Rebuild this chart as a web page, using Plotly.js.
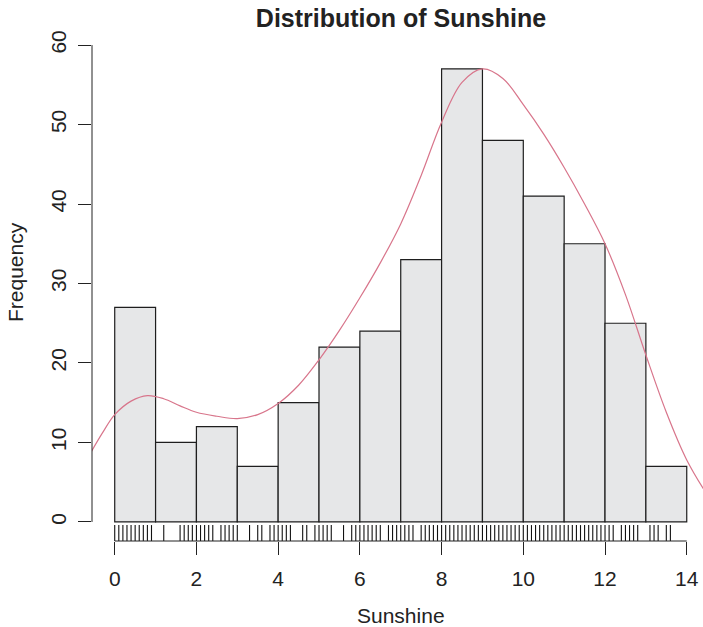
<!DOCTYPE html>
<html>
<head>
<meta charset="utf-8">
<script src="https://cdn.plot.ly/plotly-3.0.1.min.js"></script>
<style>
  html, body { margin: 0; padding: 0; background: #ffffff; }
  #chart { width: 703px; height: 627px; }
</style>
</head>
<body>
<div id="chart"></div>
<script>
// ---- data ----
const binEdges = [0, 1, 2, 3, 4, 5, 6, 7, 8, 9, 10, 11, 12, 13, 14];
const binCounts = [27, 10, 12, 7, 15, 22, 24, 33, 57, 48, 41, 35, 25, 7];

// density curve (scaled to frequency)
const densityX = [-0.6, -0.3, 0, 0.4, 0.8, 1.2, 1.6, 2, 2.5, 3, 3.5, 4, 4.5, 5, 5.5, 6, 6.5, 7, 7.5, 8, 8.5, 9, 9.5, 10, 10.5, 11, 11.5, 12, 12.5, 13, 13.5, 14, 14.5];
const densityY = [8.6, 11.2, 13.5, 15.2, 15.9, 15.5, 14.6, 13.8, 13.3, 13.0, 13.5, 14.9, 17.2, 20.4, 24.1, 28.2, 32.6, 37.5, 43.6, 50.3, 55.3, 57.0, 55.8, 52.5, 48.8, 44.6, 40.0, 35.0, 28.6, 21.0, 13.8, 7.8, 3.4];

// rug: observed sunshine values (unique)
const rugValues = [
  0.0, 0.1, 0.2, 0.3, 0.4, 0.5, 0.6, 0.7, 0.8, 0.9,
  1.2, 1.6, 1.7, 1.8, 1.9, 2.0,
  2.1, 2.2, 2.3, 2.4, 2.6, 2.7, 2.8, 2.9, 3.0,
  3.3, 3.5, 3.6, 3.8, 3.9, 4.0,
  4.1, 4.2, 4.3, 4.6, 4.7, 4.9, 5.0,
  5.1, 5.2, 5.3, 5.6, 5.8, 5.9, 6.0,
  6.1, 6.2, 6.3, 6.4, 6.5, 6.7, 6.8, 6.9, 7.0,
  7.1, 7.2, 7.3, 7.5, 7.6, 7.7, 7.8, 7.9, 8.0,
  8.1, 8.2, 8.3, 8.4, 8.5, 8.6, 8.7, 8.8, 8.9, 9.0,
  9.1, 9.2, 9.3, 9.4, 9.5, 9.6, 9.7, 9.8, 9.9, 10.0,
  10.1, 10.2, 10.3, 10.4, 10.5, 10.6, 10.7, 10.8, 10.9, 11.0,
  11.1, 11.2, 11.3, 11.4, 11.5, 11.6, 11.7, 11.8, 11.9, 12.0,
  12.1, 12.2, 12.4, 12.5, 12.6, 12.7, 12.8,
  13.1, 13.2, 13.3, 13.5, 13.6
];

const xTicks = [0, 2, 4, 6, 8, 10, 12, 14];
const yTicks = [0, 10, 20, 30, 40, 50, 60];

const titleText = 'Distribution of Sunshine';
const xLabel = 'Sunshine';
const yLabel = 'Frequency';

// ---- build traces ----
const centers = binCounts.map((_, i) => (binEdges[i] + binEdges[i + 1]) / 2);
const widths = binCounts.map((_, i) => binEdges[i + 1] - binEdges[i]);

const FONT = 'Liberation Sans, Arial, Helvetica, sans-serif';
const INK = '#222222';

const bars = {
  type: 'bar',
  x: centers,
  y: binCounts,
  width: widths,
  marker: { color: '#e6e7e8', line: { color: '#1e1e1e', width: 1.2 } },
  hoverinfo: 'x+y',
  showlegend: false
};

const density = {
  type: 'scatter',
  mode: 'lines',
  x: densityX,
  y: densityY,
  line: { color: '#d8758b', width: 1.2, shape: 'spline', smoothing: 1 },
  hoverinfo: 'skip',
  showlegend: false
};

// rug ticks from the bottom of the plot region upward
const rugBottom = -2.4, rugTop = -0.4;
const rugX = [], rugY = [];
rugValues.forEach(v => { rugX.push(v, v, null); rugY.push(rugBottom, rugTop, null); });
const rug = {
  type: 'scatter',
  mode: 'lines',
  x: rugX,
  y: rugY,
  line: { color: '#111111', width: 1.1 },
  hoverinfo: 'skip',
  showlegend: false,
  cliponaxis: false
};

const layout = {
  width: 703,
  height: 627,
  margin: { l: 92, r: 0, t: 26, b: 86 },
  paper_bgcolor: '#ffffff',
  plot_bgcolor: '#ffffff',
  font: { family: FONT, size: 21, color: INK },
  bargap: 0,
  showlegend: false,
  title: {
    text: '<b>' + titleText + '</b>',
    font: { family: FONT, size: 25, color: INK },
    xref: 'paper', x: 0.5057, xanchor: 'center',
    yref: 'container', y: 1 - 18 / 627, yanchor: 'middle'
  },
  xaxis: {
    range: [-0.556, 14.398],
    tickmode: 'array',
    tickvals: xTicks,
    ticktext: xTicks.map(String),
    ticks: 'outside', ticklen: 13, tickwidth: 1, tickcolor: INK,
    ticklabelstandoff: 6,
    tickfont: { family: FONT, size: 21, color: INK },
    showgrid: false, zeroline: false, showline: false,
    fixedrange: true
  },
  yaxis: {
    range: [-2.4, 62.4],
    tickmode: 'array',
    tickvals: yTicks,
    ticktext: yTicks.map(String),
    tickangle: -90,
    ticks: 'outside', ticklen: 13, tickwidth: 1, tickcolor: INK,
    ticklabelstandoff: 4,
    tickfont: { family: FONT, size: 21, color: INK },
    showgrid: false, zeroline: false, showline: false,
    fixedrange: true
  },
  shapes: [
    { type: 'line', xref: 'x', yref: 'paper',
      x0: xTicks[0], x1: xTicks[xTicks.length - 1], y0: 0, y1: 0,
      line: { color: INK, width: 1 } },
    { type: 'line', xref: 'paper', yref: 'y',
      x0: 0, x1: 0, y0: yTicks[0], y1: yTicks[yTicks.length - 1],
      line: { color: INK, width: 1 } }
  ],
  annotations: [
    { text: xLabel, xref: 'paper', yref: 'paper', x: 0.5057, y: 0,
      xanchor: 'center', yanchor: 'middle', yshift: -74, showarrow: false,
      font: { family: FONT, size: 21, color: INK } },
    { text: yLabel, xref: 'paper', yref: 'paper', x: 0, y: (541 - 272) / 515,
      xanchor: 'center', yanchor: 'middle', xshift: -77, textangle: -90, showarrow: false,
      font: { family: FONT, size: 21, color: INK } }
  ]
};

Plotly.newPlot('chart', [bars, density, rug], layout, { displayModeBar: false, staticPlot: true });
</script>
</body>
</html>
